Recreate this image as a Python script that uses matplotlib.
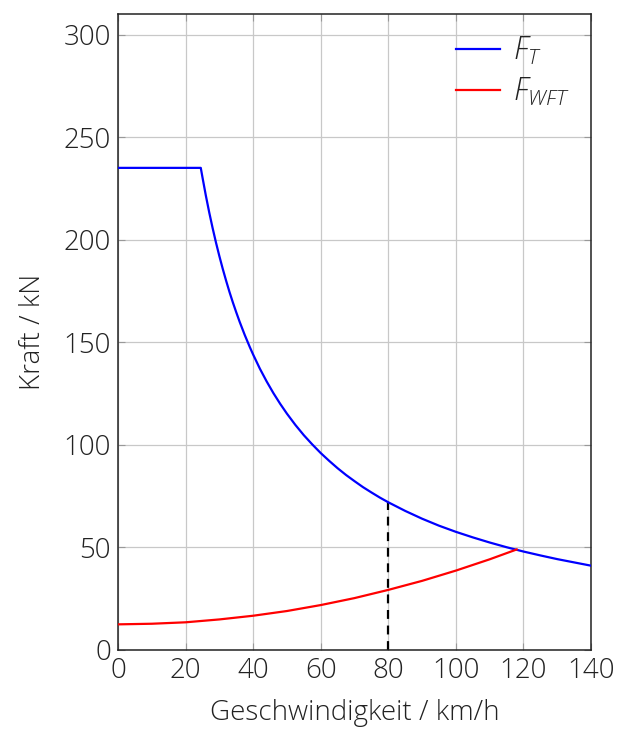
import matplotlib
matplotlib.use("Agg")
import matplotlib.pyplot as plt

plt.rcParams['font.family'] = ['Open Sans', 'DejaVu Sans']
plt.rcParams['font.weight'] = 'light'
plt.rcParams['mathtext.fontset'] = 'custom'
plt.rcParams['mathtext.it'] = 'Open Sans:italic:light'
plt.rcParams['mathtext.rm'] = 'Open Sans:light'

# Traction force F_T (kN) vs speed (km/h)
v_t = [0, 10, 20, 24.5, 25, 26, 27, 28, 29, 30, 31, 32, 33, 34, 35, 36, 37.5, 39, 40, 42, 44,
       46, 48, 50, 52.5, 55, 57.5, 60, 62.5, 65, 67.5, 70, 72.5, 75, 77.5, 80, 85, 90, 95,
       100, 105, 110, 115, 120, 125, 130, 135, 140]
f_t = [235, 235, 235, 235, 230.4, 221.5, 213.3, 205.7, 198.6, 192, 185.8, 180, 174.5, 169.4,
       164.6, 160, 153.6, 147.7, 144, 137.1, 130.9, 125.2, 120, 115.2, 109.7, 104.7, 100.2, 96,
       92.2, 88.6, 85.3, 82.3, 79.4, 76.8, 74.3, 72, 67.8, 64, 60.6, 57.6, 54.9, 52.4, 50.1,
       48, 46.1, 44.3, 42.7, 41.1]

# Running resistance F_WFT (kN)
v_w = [0, 10, 20, 30, 40, 50, 60, 70, 80, 90, 100, 110, 118]
f_w = [12.5, 12.8, 13.5, 14.9, 16.7, 19.0, 21.9, 25.3, 29.3, 33.7, 38.7, 44.2, 49.0]

# Marked operating speed
v_mark = 80
f_mark = 72

x_ticks = [0, 20, 40, 60, 80, 100, 120, 140]
y_ticks = [0, 50, 100, 150, 200, 250, 300]

fig = plt.figure(figsize=(6.29, 7.29), dpi=100)
ax = fig.add_axes([118/629, 79/729, (591-118)/629, (650-14)/729])

ax.plot(v_t, f_t, color='#0000ff', lw=1.6, label='$F_T$', zorder=3)
ax.plot(v_w, f_w, color='#ff0000', lw=1.6, label='$F_{WFT}$', zorder=3)
ax.plot([v_mark, v_mark], [0, f_mark], color='black', lw=1.6, ls=(0, (4, 3)), zorder=2)

ax.set_xlim(0, 140)
ax.set_ylim(0, 310)
ax.set_xticks(x_ticks)
ax.set_yticks(y_ticks)
ax.grid(True, color='#c8c8c8', lw=0.9)
ax.set_axisbelow(True)
ax.tick_params(direction='in', length=5, color='#999999', labelsize=20,
               labelcolor='#222222', top=True, right=True, pad=5)
for lab in ax.get_xticklabels() + ax.get_yticklabels():
    lab.set_fontweight('light')
for s in ax.spines.values():
    s.set_color('#222222')
    s.set_linewidth(1.1)

ax.set_xlabel('Geschwindigkeit / km/h', fontsize=20, color='#222222', labelpad=10,
              fontweight='light')
ax.set_ylabel('Kraft / kN', fontsize=20, color='#222222', labelpad=12,
              fontweight='light')

leg = ax.legend(loc='upper right', frameon=False, fontsize=22, handlelength=1.45,
                handletextpad=0.4, labelspacing=0.3, borderaxespad=0.3)
for t in leg.get_texts():
    t.set_color('#222222')

fig.savefig('out.png', dpi=100)
